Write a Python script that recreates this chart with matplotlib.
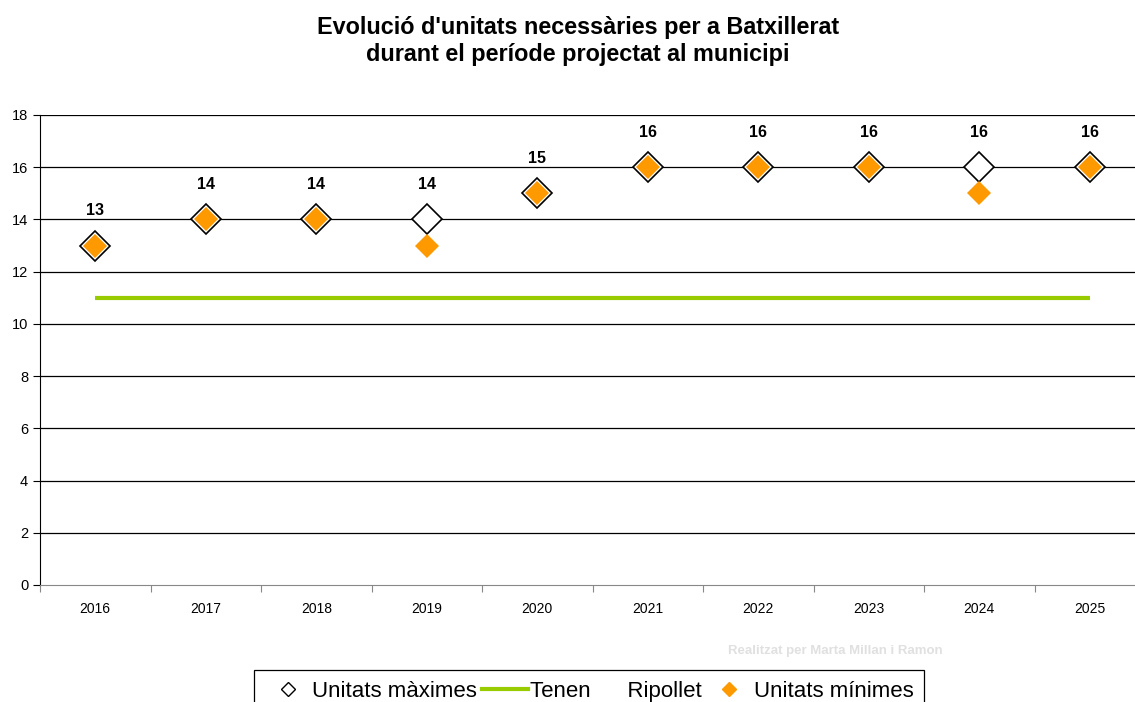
import matplotlib
matplotlib.use("Agg")
import matplotlib.pyplot as plt
from matplotlib.lines import Line2D
import numpy as np

plt.rcParams['font.family'] = ['Liberation Sans', 'DejaVu Sans']

years = ['2016', '2017', '2018', '2019', '2020', '2021', '2022', '2023', '2024', '2025']
unitats_maximes = [13, 14, 14, 14, 15, 16, 16, 16, 16, 16]
unitats_minimes = [13, 14, 14, 13, 15, 16, 16, 16, 15, 16]
tenen = [11] * 10

W, H = 1135, 702
fig = plt.figure(figsize=(W / 100, H / 100), dpi=100)
ax_left, ax_right, ax_top, ax_bot = 40, 1145, 115, 585
ax = fig.add_axes([ax_left / W, 1 - ax_bot / H, (ax_right - ax_left) / W, (ax_bot - ax_top) / H])

x = np.arange(len(years))
ax.set_xlim(-0.5, len(years) - 0.5)
ax.set_ylim(0, 18)
ax.set_yticks(range(0, 19, 2))
for yv in range(2, 19, 2):
    ax.axhline(yv, color='black', lw=0.9, zorder=1)

ax.plot(x, tenen, color='#99cc00', lw=3, zorder=2, solid_capstyle='butt')
ax.plot(x, unitats_maximes, ls='none', marker='D', ms=15.5, mfc='white', mec='black', mew=1.2, zorder=3)
ax.plot(x, unitats_minimes, ls='none', marker='D', ms=12.3, mfc='#ff9900', mec='#ff9900', mew=0, zorder=4)

for xi, v in zip(x, unitats_maximes):
    ax.annotate(str(v), (xi, v), xytext=(0, 25), textcoords='offset points',
                ha='center', va='center', fontsize=11.5, fontweight='bold')

ax.set_xticks(x)
ax.set_xticklabels(years, fontsize=10)
ax.set_xticks(np.arange(-0.5, len(years), 1), minor=True)
ax.tick_params(axis='x', which='major', length=0, pad=12)
ax.tick_params(axis='x', which='minor', length=5, width=0.8, color='#888888')
ax.tick_params(axis='y', labelsize=10.5, length=5, width=0.8, color='black')
for s in ['top', 'right']:
    ax.spines[s].set_visible(False)
ax.spines['left'].set_color('black')
ax.spines['bottom'].set_color('#888888')

fig.text(578 / W, 1 - 41 / H, "Evolució d'unitats necessàries per a Batxillerat\ndurant el període projectat al municipi",
         ha='center', va='center', fontsize=16.8, fontweight='bold', linespacing=1.22)

fig.text(835 / W, 1 - 651 / H, "Realitzat per Marta Millan i Ramon", ha='center', va='center',
         fontsize=9.5, fontweight='bold', color='#e0e0e0')

handles = [
    Line2D([], [], ls='none', marker='D', ms=7, mfc='white', mec='black', mew=1),
    Line2D([], [], color='#99cc00', lw=3),
    Line2D([], [], ls='none', marker='D', ms=7, mfc='#ff9900', mec='#ff9900'),
]
labels = ['Unitats màximes', 'Tenen      Ripollet', 'Unitats mínimes']
leg = fig.legend(handles, labels, loc='upper center', bbox_to_anchor=(589 / W, 1 - 670 / H), ncol=3,
                 fontsize=16, frameon=True, fancybox=False, edgecolor='black', framealpha=1,
                 handlelength=2.1, handletextpad=0.05, columnspacing=0.2, borderpad=0.5,
                 borderaxespad=0)
leg.get_frame().set_linewidth(0.9)

fig.savefig('out.png', dpi=100)
